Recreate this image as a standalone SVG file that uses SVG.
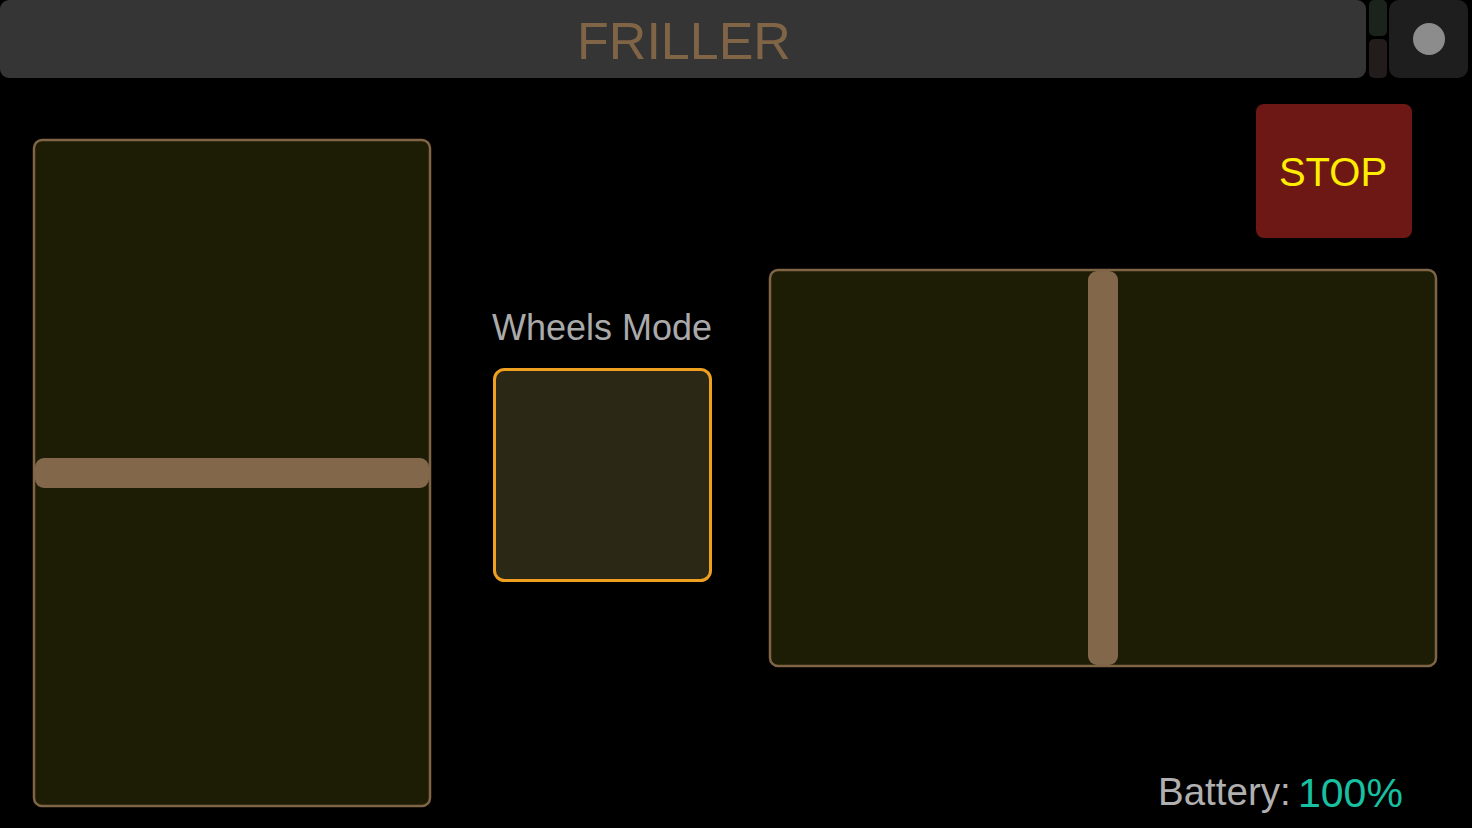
<svg xmlns="http://www.w3.org/2000/svg" width="1472" height="828" viewBox="0 0 1472 828">
<style>
.pad{fill:#1d1c04;stroke:#806446;stroke-width:2.5}
.bar{fill:#82674a}
text{font-family:"Liberation Sans",Arial,sans-serif}
</style>
<rect x="0" y="0" width="1472" height="828" fill="#000"/>
<g id="header">
<rect x="0" y="0" width="1366" height="78" rx="9" fill="#353535"/>
<text x="684" y="59" font-size="52" fill="#806446" text-anchor="middle">FRILLER</text>
</g>
<g id="indicators">
<rect x="1369" y="0" width="18" height="36" rx="5" fill="#1c231c"/>
<rect x="1369" y="39" width="18" height="39" rx="5" fill="#221c1c"/>
</g>
<g id="menu-button">
<rect x="1389" y="0" width="79" height="78" rx="10" fill="#1e1e1e"/>
<circle cx="1429" cy="39" r="16" fill="#8c8c8c"/>
</g>
<g id="left-pad">
<rect class="pad" x="34" y="140" width="396" height="666" rx="8"/>
<rect class="bar" x="35" y="458" width="394" height="30" rx="9"/>
</g>
<g id="wheels-mode">
<text x="602" y="340" font-size="36" fill="#aaaaaa" text-anchor="middle">Wheels Mode</text>
<rect x="494.5" y="369.5" width="216" height="211" rx="10" fill="#2b2916" stroke="#f0a020" stroke-width="3"/>
</g>
<g id="right-pad">
<rect class="pad" x="770" y="270" width="666" height="396" rx="8"/>
<rect class="bar" x="1088" y="271" width="30" height="394" rx="9"/>
</g>
<g id="stop">
<rect x="1256" y="104" width="156" height="134" rx="8" fill="#6e1816"/>
<text x="1333" y="186" font-size="40" fill="#ffee00" text-anchor="middle">STOP</text>
</g>
<g id="battery">
<text x="1158" y="805" font-size="38.5" fill="#b0b0b0">Battery:</text>
<text x="1298" y="807" font-size="41" fill="#17c0a0">100%</text>
</g>
<g id="connectors"></g>
</svg>
